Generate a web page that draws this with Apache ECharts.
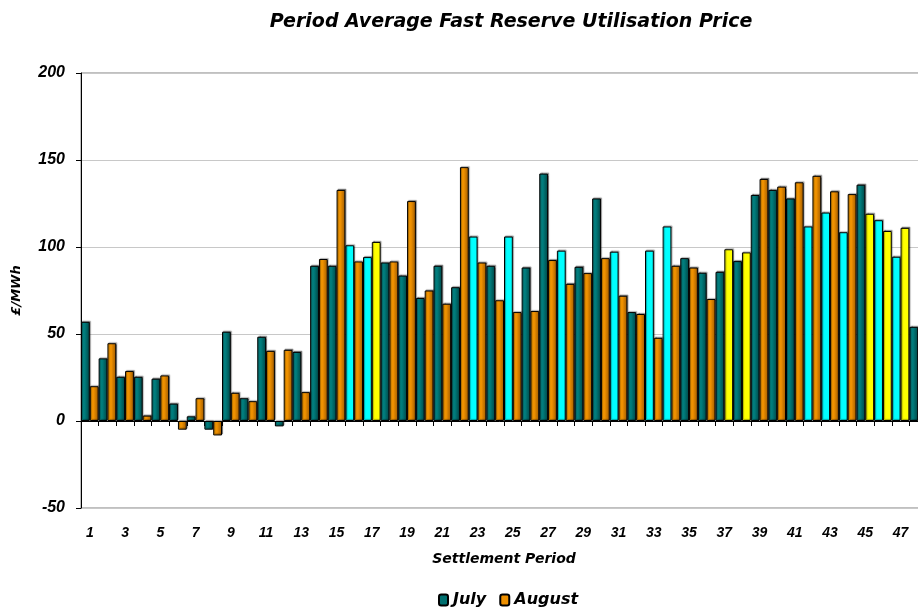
<!DOCTYPE html>
<html>
<head>
<meta charset="utf-8">
<script src="https://cdn.jsdelivr.net/npm/echarts@6/dist/echarts.min.js"></script>
<style>
html,body{margin:0;padding:0;background:#fff;}
#chart{width:918px;height:614px;}
</style>
</head>
<body>
<div id="chart"></div>
<script>
var periods = [];
for (var i = 1; i <= 48; i++) periods.push(String(i));
var july = [57, 36, 25.4, 25.4, 24.3, 10, 2.7, -5, 51.3, 13.1, 48.4, -3.1, 39.7, 89.2, 89.2, 101, 94.2, 91.1, 83.6, 70.7, 89.2, 76.9, 106, 89.2, 106, 88.2, 142.2, 97.9, 88.6, 127.9, 97.3, 62.6, 97.9, 111.8, 93.6, 85.2, 85.7, 91.9, 129.9, 132.8, 127.9, 111.8, 119.8, 108.5, 135.8, 115.4, 94.4, 54.1];
var august = [20, 44.7, 28.7, 3.1, 26.2, -5, 13.1, -8.3, 16.2, 11.4, 40.3, 40.9, 16.6, 93.1, 132.8, 91.7, 102.9, 91.7, 126.4, 75, 67.4, 145.9, 91.1, 69.4, 62.6, 63.2, 92.5, 78.8, 85, 93.6, 72, 61.5, 47.8, 89.2, 88.2, 70.1, 98.7, 96.9, 139.1, 134.7, 137.2, 140.9, 132, 130.4, 119.1, 109.2, 111, null];
var julyHighlightPeriods = [16, 17, 23, 25, 28, 31, 33, 34, 42, 43, 44, 46, 47];
var augustHighlightPeriods = [17, 37, 38, 45, 46, 47];
var yTicks = [-50, 0, 50, 100, 150, 200];

var FONT = '"Liberation Sans", Arial, sans-serif';
var WIDE = '"DejaVu Sans", sans-serif';
var tealGrad = new echarts.graphic.LinearGradient(0, 0, 1, 0, [
  {offset: 0, color: '#0c9090'}, {offset: 0.45, color: '#007a7a'}, {offset: 1, color: '#004444'}]);
var orangeGrad = new echarts.graphic.LinearGradient(0, 0, 1, 0, [
  {offset: 0, color: '#ffa200'}, {offset: 0.45, color: '#ee9000'}, {offset: 1, color: '#9c5800'}]);

function build(values, highlights, hiColor) {
  return values.map(function (v, i) {
    var p = i + 1;
    if (highlights.indexOf(p) >= 0) {
      return {value: v, itemStyle: {color: hiColor}};
    }
    return v;
  });
}

var chart = echarts.init(document.getElementById('chart'), null, {renderer: 'canvas'});
chart.setOption({
  animation: false,
  backgroundColor: '#ffffff',
  title: {
    text: 'Period Average Fast Reserve Utilisation Price',
    left: 506, top: 8, textAlign: 'center',
    textStyle: {fontFamily: WIDE, fontSize: 19, fontWeight: 'bold', fontStyle: 'italic', color: '#000'}
  },
  legend: {
    bottom: 1, left: 433,
    itemWidth: 9, itemHeight: 11, itemGap: 13,
    data: [{name: 'July', itemStyle: {color: '#007070'}}, {name: 'August', itemStyle: {color: '#ee9000'}}],
    textStyle: {fontFamily: WIDE, fontSize: 16, fontWeight: 'bold', fontStyle: 'italic', color: '#000'}
  },
  grid: {left: 81, top: 73, width: 846, height: 435, outerBoundsMode: 'none', show: true, borderColor: '#808080', borderWidth: 1, containLabel: false},
  xAxis: [{
    type: 'category', data: periods, position: 'bottom',
    boundaryGap: true,
    axisLine: {onZero: true, lineStyle: {color: '#000', width: 1}},
    axisTick: {show: true, interval: 0, length: 5, lineStyle: {color: '#000'}},
    axisLabel: {show: false},
    splitLine: {show: false}
  }, {
    type: 'category', data: periods, position: 'bottom',
    boundaryGap: true,
    axisLine: {show: false, onZero: false},
    axisTick: {show: false},
    axisLabel: {interval: 1, margin: 18, fontFamily: FONT, fontSize: 14, fontWeight: 'bold', fontStyle: 'italic', color: '#000'},
    name: 'Settlement Period', nameLocation: 'middle', nameGap: 44,
    nameTextStyle: {fontFamily: WIDE, fontSize: 14, fontWeight: 'bold', fontStyle: 'italic', color: '#000'}
  }],
  yAxis: {
    type: 'value', min: yTicks[0], max: yTicks[yTicks.length - 1], interval: 50,
    axisLine: {show: true, lineStyle: {color: '#000'}},
    axisTick: {show: true, length: 5, lineStyle: {color: '#000'}},
    axisLabel: {margin: 16, fontFamily: FONT, fontSize: 16, fontWeight: 'bold', fontStyle: 'italic', color: '#000'},
    splitLine: {show: true, lineStyle: {color: '#c8c8c8', width: 1}},
    name: '£/MWh', nameLocation: 'middle', nameGap: 58, nameRotate: 90,
    nameTextStyle: {fontFamily: WIDE, fontSize: 13, fontWeight: 'bold', fontStyle: 'italic', color: '#000'}
  },
  series: [{
    name: 'July', type: 'bar', xAxisIndex: 0,
    barGap: '0%', barCategoryGap: '0%',
    data: build(july, julyHighlightPeriods, '#00ffff'),
    itemStyle: {color: tealGrad, borderColor: '#000', borderWidth: 1,
      shadowColor: 'rgba(0,0,0,0.35)', shadowOffsetX: 1, shadowOffsetY: -1, shadowBlur: 1}
  }, {
    name: 'August', type: 'bar', xAxisIndex: 0,
    barGap: '0%', barCategoryGap: '0%',
    data: build(august, augustHighlightPeriods, '#ffff00'),
    itemStyle: {color: orangeGrad, borderColor: '#000', borderWidth: 1,
      shadowColor: 'rgba(0,0,0,0.35)', shadowOffsetX: 1, shadowOffsetY: -1, shadowBlur: 1}
  }]
});
</script>
</body>
</html>
